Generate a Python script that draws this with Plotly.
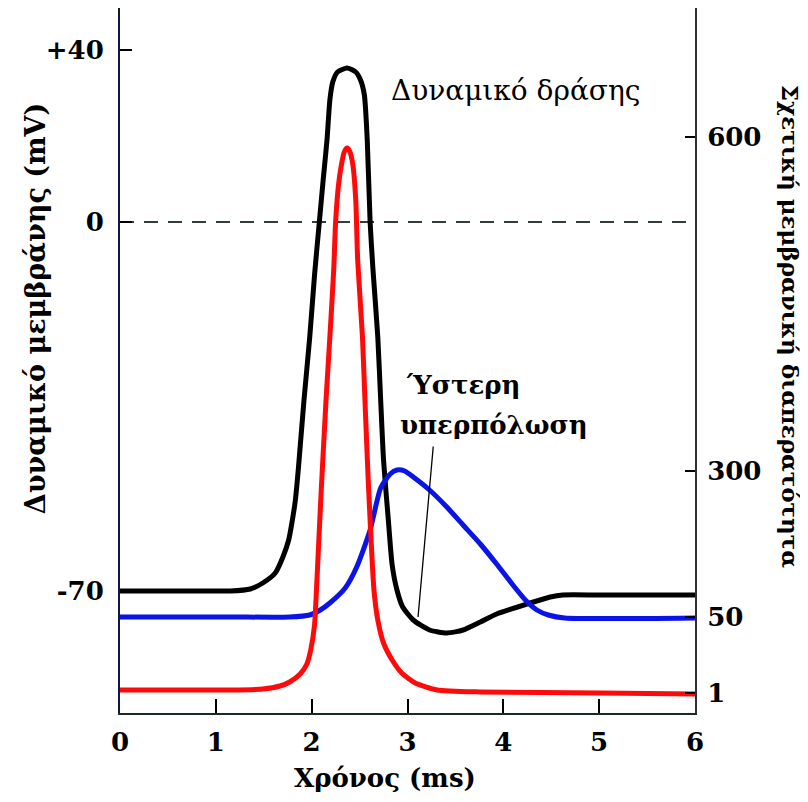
import plotly.graph_objects as go

# ---- data (x in ms; y in schematic display units of the figure) ----
time_ticks = [0, 1, 2, 3, 4, 5, 6]

left_tick_vals = [663, 491, 122]
left_tick_text = ["+40", "0", "-70"]
right_tick_vals = [576, 242, 96, 20]
right_tick_text = ["600", "300", "50", "1"]

# Membrane potential (action potential)
ap_t = [0.00, 0.83, 1.15, 1.36, 1.49, 1.62, 1.70, 1.76, 1.79, 1.83, 1.86, 1.92, 1.98, 2.03,
        2.08, 2.12, 2.16, 2.19, 2.22, 2.27, 2.37, 2.46, 2.51, 2.55, 2.58, 2.61, 2.64, 2.69,
        2.72, 2.75, 2.80, 2.84, 2.89, 2.95, 3.06, 3.23, 3.41, 3.58, 3.76, 3.93, 4.28, 4.49,
        4.62, 5.01, 6.00]
ap_v = [122, 122, 122, 124, 130, 140, 156, 173, 188, 213, 243, 313, 376, 438,
        491, 533, 573, 613, 631, 641, 645, 641, 633, 618, 573, 491, 443, 376,
        313, 253, 193, 148, 123, 106, 93, 83, 80, 83, 91, 99, 110, 116,
        118, 118, 118]

# Na+ relative permeability (red)
na_t = [0.00, 1.15, 1.49, 1.67, 1.77, 1.88, 1.95, 1.99, 2.03, 2.05, 2.07, 2.10, 2.15, 2.19,
        2.23, 2.25, 2.28, 2.31, 2.34, 2.37, 2.40, 2.43, 2.46, 2.48, 2.53, 2.56, 2.59, 2.62,
        2.65, 2.69, 2.75, 2.84, 2.94, 3.08, 3.31, 3.76, 5.01, 6.00]
na_p = [23, 23, 24, 27, 31, 39, 49, 63, 88, 123, 163, 223, 313, 376,
        443, 491, 528, 548, 561, 565, 561, 548, 513, 453, 376, 303, 233, 173,
        123, 93, 70, 53, 40, 30, 23, 21, 20, 19]

# K+ relative permeability (blue)
k_t = [0.00, 1.15, 1.77, 1.98, 2.09, 2.19, 2.35, 2.47, 2.61, 2.72, 2.82, 2.89, 2.97, 3.06,
       3.23, 3.41, 3.58, 3.76, 3.93, 4.10, 4.23, 4.35, 4.47, 4.64, 6.00]
k_p = [96, 96, 96, 98, 103, 110, 125, 146, 183, 225, 239, 243, 242, 236,
       223, 206, 188, 169, 149, 128, 113, 103, 98, 95, 95]

zero_level = left_tick_vals[1]

FONT = "DejaVu Serif"

fig = go.Figure()

fig.add_trace(go.Scatter(x=[0, 6], y=[zero_level, zero_level], mode="lines",
                         line=dict(color="#2f3f38", width=2, dash="14px,10px"),
                         hoverinfo="skip", showlegend=False))
fig.add_trace(go.Scatter(x=k_t, y=k_p, mode="lines",
                         line=dict(color="#0a14e6", width=5, shape="spline", smoothing=0.6),
                         showlegend=False, yaxis="y2"))
fig.add_trace(go.Scatter(x=na_t, y=na_p, mode="lines",
                         line=dict(color="#ff0a0a", width=5, shape="spline", smoothing=0.6),
                         showlegend=False, yaxis="y2"))
fig.add_trace(go.Scatter(x=ap_t, y=ap_v, mode="lines",
                         line=dict(color="#000000", width=5, shape="spline", smoothing=0.6),
                         showlegend=False))

YR = [0, 705]
tick_font = dict(family=FONT, size=26, color="black", weight="bold")

fig.update_layout(
    width=808, height=802,
    margin=dict(l=112, r=121, t=0, b=97),
    paper_bgcolor="white", plot_bgcolor="white",
    font=dict(family=FONT, color="black"),
    xaxis=dict(range=[0, 6], tickvals=time_ticks, ticktext=[str(t) for t in time_ticks],
               showgrid=False, zeroline=False, showline=True, linecolor="#1a2a24",
               linewidth=2, ticks="inside", ticklen=14, tickwidth=1.5, tickcolor="black",
               tickfont=tick_font, ticklabelstandoff=5),
    yaxis=dict(range=YR, tickvals=left_tick_vals, ticktext=left_tick_text,
               showgrid=False, zeroline=False, showline=True, linecolor="#101840",
               linewidth=2, ticks="inside", ticklen=12, tickwidth=1.5, tickcolor="black",
               tickfont=tick_font, ticklabelstandoff=9),
    yaxis2=dict(range=YR, overlaying="y", side="right", tickvals=right_tick_vals,
                ticktext=right_tick_text, showgrid=False, zeroline=False, showline=True,
                linecolor="#303030", linewidth=2, ticks="inside", ticklen=10,
                tickwidth=1.5, tickcolor="black", tickfont=tick_font,
                ticklabelstandoff=5),
)

fig.add_annotation(x=4.13, y=623, xref="x", yref="y", text="Δυναμικό δράσης",
                   showarrow=False, font=dict(family=FONT, size=28, color="black"))
fig.add_annotation(x=3.58, y=328, xref="x", yref="y", text="<b>Ύστερη</b>",
                   showarrow=False, font=dict(family=FONT, size=26, color="black"))
fig.add_annotation(x=3.90, y=288, xref="x", yref="y", text="<b>υπερπόλωση</b>",
                   showarrow=False, font=dict(family=FONT, size=26, color="black"))
fig.add_annotation(x=3.11, y=96, xref="x", yref="y", ax=3.27, ay=268,
                   axref="x", ayref="y", text="", showarrow=True, arrowhead=0,
                   arrowwidth=1.3, arrowcolor="black")

fig.add_annotation(x=-0.148, y=0.574, xref="paper", yref="paper",
                   xanchor="center", yanchor="middle",
                   text="<b>Δυναμικό μεμβράνης (mV)</b>", textangle=-90,
                   showarrow=False, font=dict(family=FONT, size=27, color="black"))
fig.add_annotation(x=1.165, y=0.548, xref="paper", yref="paper",
                   xanchor="center", yanchor="middle",
                   text="<b>Σχετική μεμβρανική διαπερατότητα</b>", textangle=90,
                   showarrow=False, font=dict(family=FONT, size=23, color="black"))
fig.add_annotation(x=0.461, y=-0.092, xref="paper", yref="paper",
                   xanchor="center", yanchor="middle",
                   text="<b>Χρόνος (ms)</b>", showarrow=False,
                   font=dict(family=FONT, size=26, color="black"))

fig.write_html("out.html")
